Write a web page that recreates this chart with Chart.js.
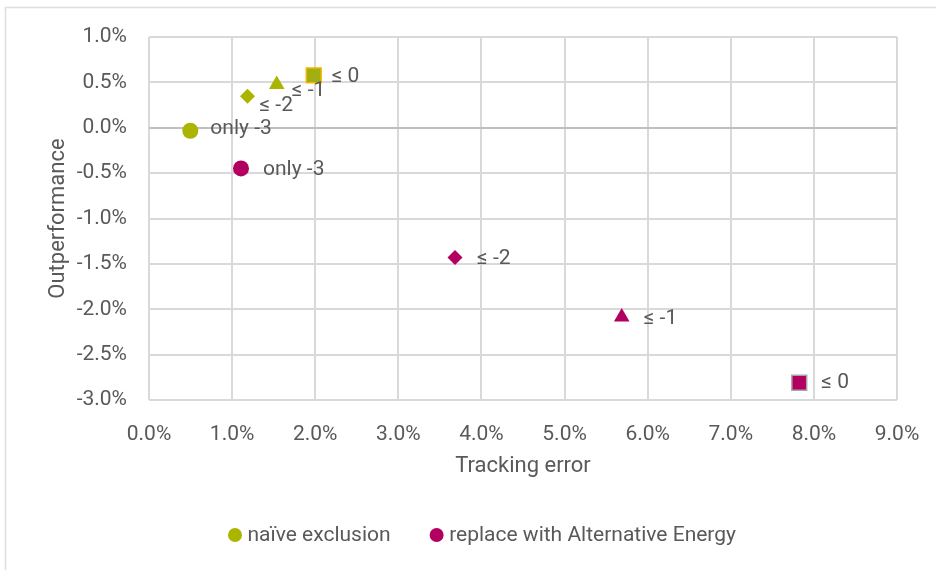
<!DOCTYPE html>
<html>
<head>
<meta charset="utf-8">
<script src="https://cdn.jsdelivr.net/npm/chart.js@4/dist/chart.umd.min.js"></script>
<style>
  html, body { margin: 0; padding: 0; background: #ffffff; }
  #wrap { position: relative; width: 936px; height: 570px; }
</style>
</head>
<body>
<div id="wrap"><canvas id="chart" width="936" height="570"></canvas></div>
<script>
// Exclusion steps (one marker shape per step)
const categories = ['only -3', '≤ -2', '≤ -1', '≤ 0'];
const markerShapes = ['circle', 'rectRot', 'triangle', 'rect'];

// Series: tracking error (%) and outperformance (%)
const naiveTE  = [0.497, 1.185, 1.537, 1.982];
const naiveOut = [-0.033, 0.348, 0.477, 0.577];
const altTE    = [1.107, 3.682, 5.688, 7.824];
const altOut   = [-0.448, -1.431, -2.086, -2.810];

const seriesNames = ['naïve exclusion', 'replace with Alternative Energy'];

// Axis ticks
const xTicks = [0, 1, 2, 3, 4, 5, 6, 7, 8, 9];
const yTicks = [-3.0, -2.5, -2.0, -1.5, -1.0, -0.5, 0.0, 0.5, 1.0];

// Styling
const GREEN = '#abb500';
const MAGENTA = '#b1005f';
const TEXT = '#595959';
const GRID = '#d9d9d9';
const FONT = 'Roboto, "Noto Sans", sans-serif';
const markerSizes = [8, 7.5, 9, 10.5];

// Label placement next to each marker: [dx to text start, dy]
const naiveLabelShift = [[20, -2], [12, 10], [15, 6], [18, 1]];
const altLabelShift   = [[22, 1], [22, 1], [22, 2], [22, 0]];

const toPoints = (xs, ys) => xs.map((x, i) => ({ x, y: ys[i] }));

const pointLabels = {
  id: 'pointLabels',
  afterDatasetsDraw(chart) {
    const ctx = chart.ctx;
    ctx.save();
    ctx.font = '21px ' + FONT;
    ctx.fillStyle = TEXT;
    ctx.textAlign = 'left';
    ctx.textBaseline = 'middle';
    chart.data.datasets.forEach((ds, di) => {
      const meta = chart.getDatasetMeta(di);
      const shifts = di === 0 ? naiveLabelShift : altLabelShift;
      meta.data.forEach((pt, i) => {
        const [dx, dy] = shifts[i];
        ctx.fillText(categories[i], pt.x + dx, pt.y + dy);
      });
    });
    ctx.restore();
  }
};

const frameAndLegend = {
  id: 'frameAndLegend',
  beforeDraw(chart) {
    const ctx = chart.ctx;
    ctx.save();
    ctx.fillStyle = '#ffffff';
    ctx.fillRect(0, 0, chart.width, chart.height);
    ctx.strokeStyle = '#dedede';
    ctx.lineWidth = 1.5;
    ctx.strokeRect(5.5, 7.5, chart.width + 10, chart.height + 10);
    ctx.restore();
  },
  afterDraw(chart) {
    const ctx = chart.ctx;
    ctx.save();
    ctx.font = '21px ' + FONT;
    ctx.textBaseline = 'middle';
    ctx.textAlign = 'left';
    const r = 7, gapText = 12.5, gapItem = 46;
    const items = chart.data.datasets.map(ds => ({
      text: ds.label, color: ds.backgroundColor[0], w: ctx.measureText(ds.label).width
    }));
    // total width: first dot's left half, then per item dot-to-text gap and text, plus spacing to next dot
    let total = r;
    items.forEach((it, i) => { total += (i ? gapItem : r) + gapText - (i ? 0 : r) + it.w; });
    let x = 482 - total / 2;
    const y = 535;
    items.forEach((it, i) => {
      const cx = i === 0 ? x + r : x + gapItem;
      ctx.fillStyle = it.color;
      ctx.beginPath();
      ctx.arc(cx, y, r, 0, Math.PI * 2);
      ctx.fill();
      ctx.fillStyle = TEXT;
      ctx.fillText(it.text, cx + gapText, y + 1);
      x = cx + gapText + it.w;
    });
    ctx.restore();
  }
};

new Chart(document.getElementById('chart'), {
  type: 'scatter',
  data: {
    datasets: [
      {
        label: seriesNames[0],
        data: toPoints(naiveTE, naiveOut),
        pointStyle: markerShapes,
        radius: markerSizes,
        hoverRadius: markerSizes,
        backgroundColor: [GREEN, GREEN, GREEN, '#a2ae12'],
        borderColor: [GREEN, GREEN, GREEN, '#f2b705'],
        borderWidth: [0, 0, 0, 1.5]
      },
      {
        label: seriesNames[1],
        data: toPoints(altTE, altOut),
        pointStyle: markerShapes,
        radius: markerSizes,
        hoverRadius: markerSizes,
        backgroundColor: [MAGENTA, MAGENTA, MAGENTA, MAGENTA],
        borderColor: [MAGENTA, MAGENTA, MAGENTA, '#a6a6a6'],
        borderWidth: [0, 0, 0, 1.5]
      }
    ]
  },
  options: {
    responsive: false,
    animation: false,
    events: [],
    layout: { padding: { left: 45, top: 37, right: 39, bottom: 90 } },
    plugins: {
      legend: { display: false },
      tooltip: { enabled: false }
    },
    scales: {
      x: {
        type: 'linear',
        min: xTicks[0],
        max: xTicks[xTicks.length - 1],
        afterBuildTicks: s => { s.ticks = xTicks.map(v => ({ value: v })); },
        afterFit: s => { s.height = 80; s.paddingLeft = 0; s.paddingRight = 0; },
        border: { display: false },
        grid: { color: GRID, lineWidth: 2, drawTicks: false },
        ticks: {
          padding: 22,
          color: TEXT,
          font: { family: FONT, size: 21 },
          callback: v => v.toFixed(1) + '%'
        },
        title: {
          display: true,
          text: 'Tracking error',
          color: TEXT,
          font: { family: FONT, size: 22 },
          padding: { top: 4, bottom: 0 }
        }
      },
      y: {
        type: 'linear',
        min: yTicks[0],
        max: yTicks[yTicks.length - 1],
        afterBuildTicks: s => { s.ticks = yTicks.map(v => ({ value: v })); },
        afterFit: s => { s.width = 104; },
        border: { display: false },
        grid: {
          color: ctx => (ctx.tick && ctx.tick.value === 0 ? '#bfbfbf' : GRID),
          lineWidth: 2,
          drawTicks: false
        },
        ticks: {
          padding: 22,
          color: TEXT,
          font: { family: FONT, size: 21 },
          callback: v => v.toFixed(1) + '%'
        },
        title: {
          display: true,
          text: 'Outperformance',
          color: TEXT,
          font: { family: FONT, size: 22 },
          padding: { top: 0, bottom: 0 }
        }
      }
    }
  },
  plugins: [frameAndLegend, pointLabels]
});
</script>
</body>
</html>
